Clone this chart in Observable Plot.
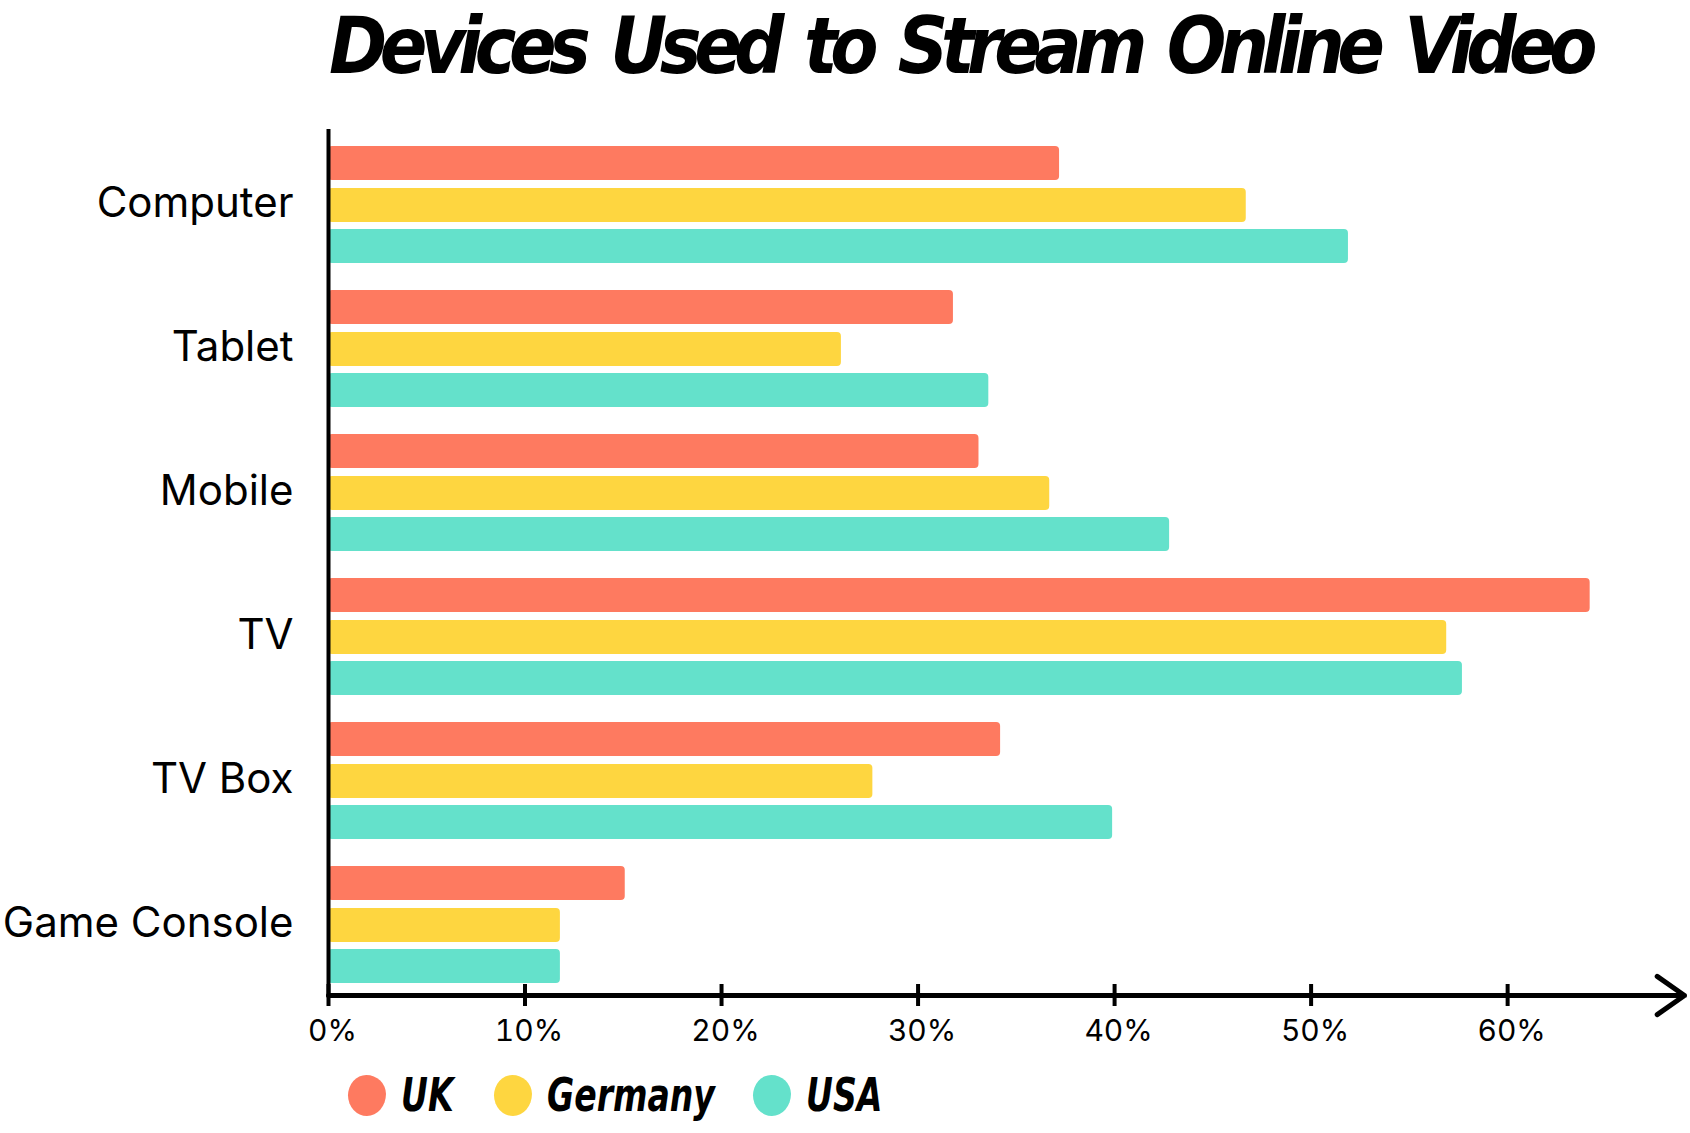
<!DOCTYPE html>
<html><head><meta charset="utf-8">
<script src="https://cdn.jsdelivr.net/npm/d3@7"></script>
<script src="https://cdn.jsdelivr.net/npm/@observablehq/plot@0.6"></script>
<style>
body{margin:0;background:#fff;width:1690px;height:1133px;overflow:hidden;font-family:Inter,"Open Sans",sans-serif;color:#000}
#title{height:110px;position:relative}
#title span{position:absolute;left:329px;top:7px;font-family:"DejaVu Sans Condensed","DejaVu Sans",sans-serif;font-weight:bold;font-style:italic;font-size:78px;line-height:1;white-space:nowrap;word-spacing:10px}
#legend{position:relative;height:76px}
.li{position:absolute;top:0;height:76px;display:flex;align-items:center}
.dot{width:38px;height:41px;border-radius:48% 52% 50% 50%/50% 46% 54% 50%;margin-right:15px}
.lt{font-family:"DejaVu Sans Condensed","DejaVu Sans",sans-serif;font-weight:bold;font-style:italic;font-size:46px;transform:scaleX(0.8);transform-origin:0 50%}
</style></head><body>
<div id="title"><span>Devices Used to Stream Online Video</span></div>
<div id="chart"></div>
<div id="legend"></div>
<script>
const categories = ["Computer", "Tablet", "Mobile", "TV", "TV Box", "Game Console"];
const seriesNames = ["UK", "Germany", "USA"];
const ukValues = [37.2, 31.8, 33.1, 64.2, 34.2, 15.1];
const germanyValues = [46.7, 26.1, 36.7, 56.9, 27.7, 11.8];
const usaValues = [51.9, 33.6, 42.8, 57.7, 39.9, 11.8];
const seriesColors = ["#fe7a60", "#fed640", "#64e1cb"];
const xTicks = [0, 10, 20, 30, 40, 50, 60];
const xMax = 69;

const seriesValues = [ukValues, germanyValues, usaValues];
const offsets = [-40, 2, 43];
const lastCat = categories[categories.length - 1];

const barMarks = seriesValues.map((vals, i) =>
  Plot.barX(categories, {
    y: d => d,
    x1: 0,
    x2: (d, j) => vals[j],
    fill: seriesColors[i],
    dy: offsets[i],
    insetTop: 55,
    insetBottom: 55,
    rx: 4
  })
);

const chart = Plot.plot({
  width: 1690,
  height: 947,
  marginTop: 19,
  marginBottom: 60,
  marginLeft: 328,
  marginRight: 6,
  style: {fontFamily: "Inter, sans-serif", background: "transparent", color: "#000"},
  x: {domain: [0, xMax]},
  y: {domain: categories, padding: 0},
  marks: [
    ...barMarks,
    Plot.ruleX([0], {stroke: "#000", strokeWidth: 4}),
    Plot.arrow([0], {
      x1: 0, x2: xMax,
      y1: () => lastCat, y2: () => lastCat,
      dy: 72,
      stroke: "#000", strokeWidth: 5,
      headLength: 10, headAngle: 70
    }),
    Plot.tickX(xTicks, {x: d => d, y: () => lastCat, dy: 72, insetTop: 61, insetBottom: 61, stroke: "#000", strokeWidth: 4}),
    Plot.axisX({ticks: xTicks, tickFormat: d => d + "%", tickSize: 0, tickPadding: 22, fontSize: 30, label: null, dx: 4}),
    Plot.axisY({tickSize: 0, tickPadding: 35, fontSize: 42, label: null})
  ]
});
document.getElementById("chart").appendChild(chart);

// fit title width via letter spacing (no transforms)
const t = document.querySelector("#title span");
const w = t.getBoundingClientRect().width;
const n = t.textContent.length;
t.style.letterSpacing = ((1261 - w) / n) + "px";

// legend
const legendX = [348, 494, 753];
const legend = document.getElementById("legend");
seriesNames.forEach((name, i) => {
  const item = document.createElement("div");
  item.className = "li";
  item.style.left = legendX[i] + "px";
  item.innerHTML = `<div class="dot" style="background:${seriesColors[i]}"></div><div class="lt">${name}</div>`;
  legend.appendChild(item);
});
</script>
</body></html>
